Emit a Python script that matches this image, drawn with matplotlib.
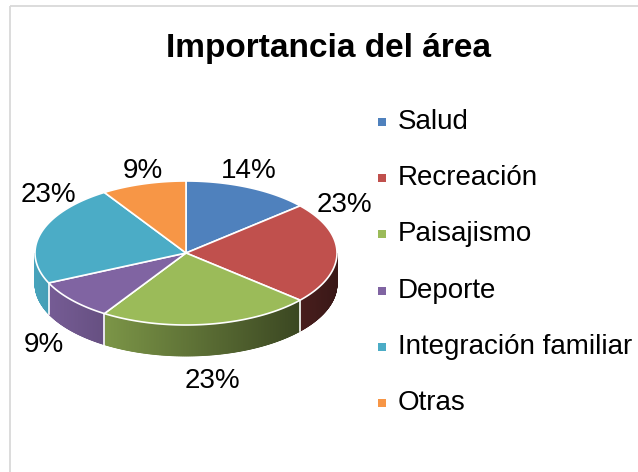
import numpy as np
import matplotlib.pyplot as plt
from matplotlib.patches import Polygon, Rectangle

plt.rcParams['font.family'] = ['Liberation Sans', 'DejaVu Sans']

# data
categories = ["Salud", "Recreación", "Paisajismo", "Deporte", "Integración familiar", "Otras"]
values = [3, 5, 5, 2, 5, 2]
colors = ["#4F81BD", "#C0504D", "#9BBB59", "#8064A2", "#4BACC6", "#F79646"]
title = "Importancia del área"

# label placement (pixel x centre, baseline y), like Excel's "best fit"
label_pos = [(249, 178), (344, 212), (212, 388), (44, 352), (48, 202), (143, 178)]

W, H = 638, 472
cx, cy, ra, rb, depth = 186, 253, 151, 72, 31


def ell(theta_deg, dy=0.0):
    t = np.radians(theta_deg)
    return cx + ra * np.cos(t), cy - rb * np.sin(t) + dy


def shade(color, x):
    # side wall darker towards the right
    t = (x - (cx - ra)) / (2 * ra)
    f = np.clip(0.95 - 0.65 * t, 0.25, 1.0)
    rgb = np.array(plt.matplotlib.colors.to_rgb(color))
    return tuple(rgb * f)


fig = plt.figure(figsize=(W / 100, H / 100), dpi=100)
ax = fig.add_axes([0, 0, 1, 1])
ax.set_xlim(0, W)
ax.set_ylim(H, 0)
ax.axis('off')

# chart frame (only top/left visible, rest cropped)
ax.add_patch(Rectangle((10, 6), 700, 600, fill=False, edgecolor='#D9D9D9', lw=1.3, zorder=0))

total = float(sum(values))
angles = [90.0]
for v in values:
    angles.append(angles[-1] - 360.0 * v / total)

# side walls
for i, col in enumerate(colors):
    a0, a1 = angles[i], angles[i + 1]
    n = max(int(abs(a0 - a1) / 0.25), 2)
    grid = np.linspace(a1, a0, n + 1)
    for t1, t2 in zip(grid[:-1], grid[1:]):
        mid = 0.5 * (t1 + t2)
        if np.sin(np.radians(mid)) >= 0:
            continue
        x1, y1 = ell(t1)
        x2, y2 = ell(t2)
        c = shade(col, 0.5 * (x1 + x2))
        ax.add_patch(Polygon([(x1, y1), (x2, y2), (x2, y2 + depth), (x1, y1 + depth)],
                             closed=True, facecolor=c, edgecolor=c, lw=0.6, zorder=1))

for a in angles:
    if np.sin(np.radians(a)) < -0.02:
        x, y = ell(a)
        ax.plot([x, x], [y, y + depth], color='white', lw=1.2, zorder=2)

# top faces
for i, col in enumerate(colors):
    a0, a1 = angles[i], angles[i + 1]
    arc = np.linspace(a0, a1, 120)
    pts = [(cx, cy)] + [ell(a) for a in arc]
    ax.add_patch(Polygon(pts, closed=True, facecolor=col, edgecolor='white', lw=1.2, zorder=3))

# percent labels
for v, (lx, ly) in zip(values, label_pos):
    ax.text(lx, ly, f"{round(v / total * 100)}%", ha='center', va='baseline',
            fontsize=20, color='black', zorder=5)

ax.text(329, 57, title, ha='center', va='baseline', fontsize=24, fontweight='bold')

# legend
for i, (name, col) in enumerate(zip(categories, colors)):
    yb = 129 + i * 56.2
    ax.add_patch(Rectangle((378, yb - 11), 8, 8, facecolor=col, edgecolor='none'))
    ax.text(398, yb, name, ha='left', va='baseline', fontsize=20)

fig.savefig('out.png', dpi=100)
